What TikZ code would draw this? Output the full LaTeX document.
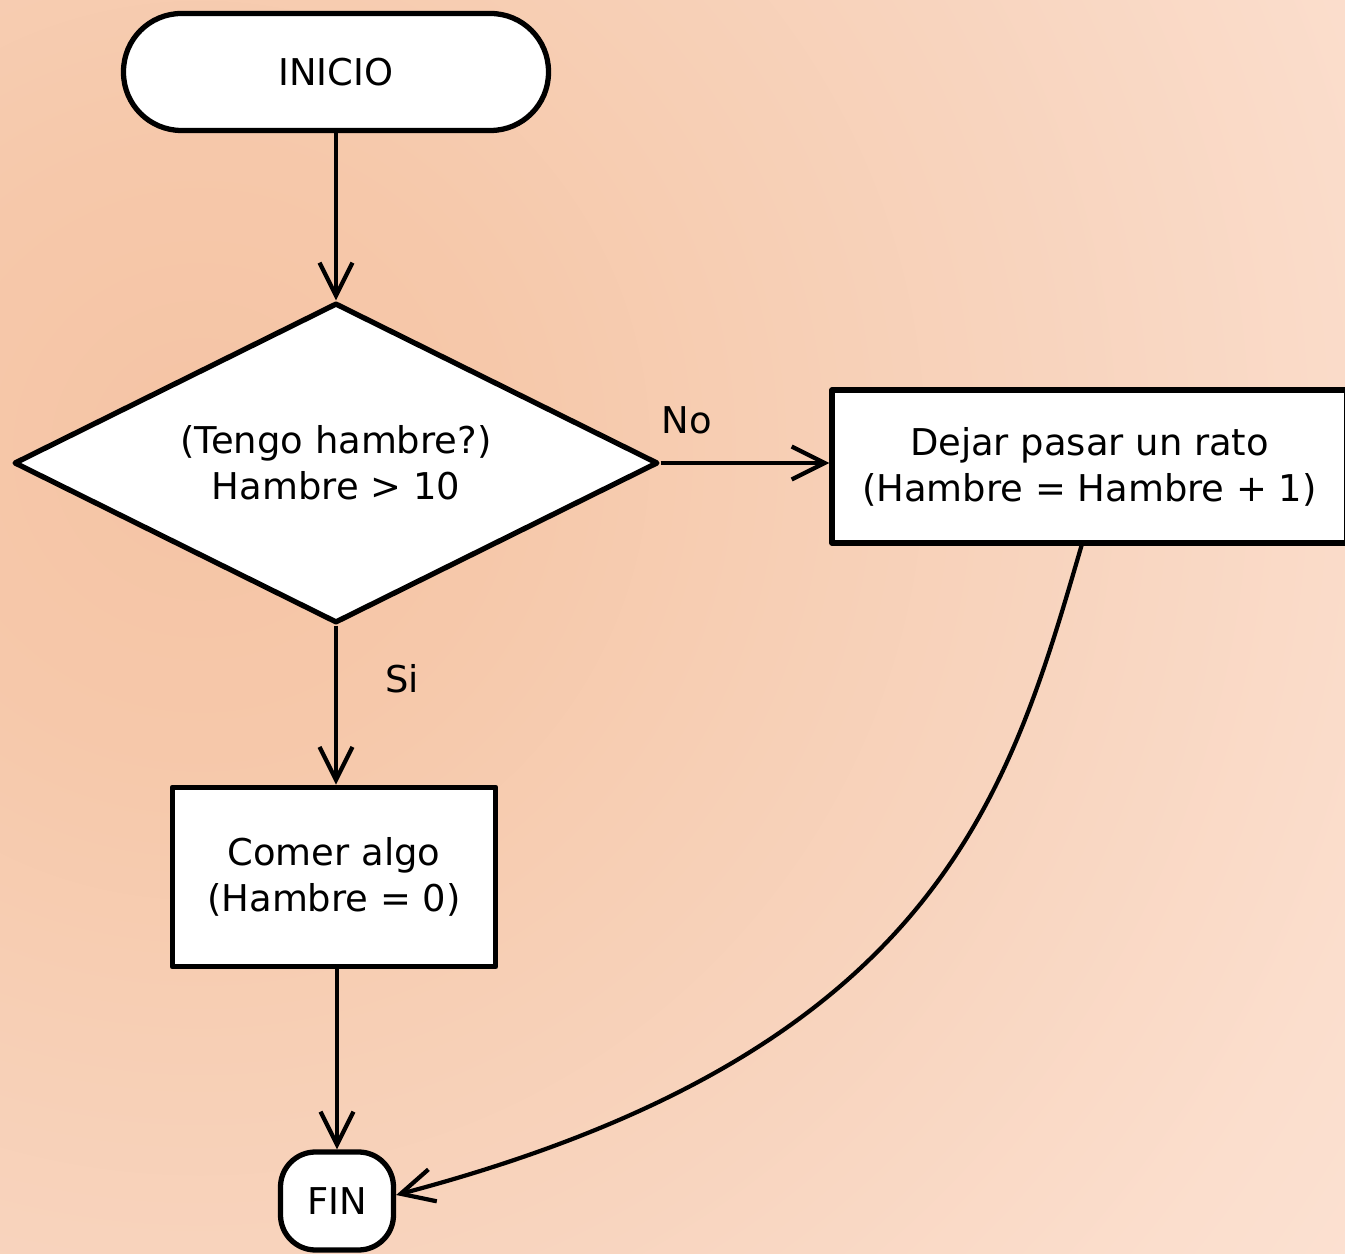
\documentclass[tikz,border=0pt]{standalone}
\usepackage{fontspec}
\setmainfont{DejaVu Sans}
\usetikzlibrary{shapes.geometric,arrows.meta}
\definecolor{fondoA}{RGB}{245,196,165}
\definecolor{fondoB}{RGB}{246,200,170}
\definecolor{fondoC}{RGB}{247,207,181}
\definecolor{fondoD}{RGB}{248,212,190}
\definecolor{fondoE}{RGB}{251,222,205}
\definecolor{fondoF}{RGB}{252,226,211}
\pgfdeclareradialshading{fondo}{\pgfpoint{0bp}{0bp}}{color(0bp)=(fondoA); color(85bp)=(fondoB); color(170bp)=(fondoC); color(241bp)=(fondoD); color(354bp)=(fondoE); color(420bp)=(fondoF)}
\tikzset{
  terminal/.style={draw, line width=1.5pt, fill=white, inner sep=0pt},
  decision/.style={draw, diamond, aspect=2, line width=1.5pt, fill=white, inner sep=0pt,
    minimum width=6.44cm, minimum height=3.2cm, align=center},
  proceso/.style={draw, rectangle, line width=1.5pt, fill=white, inner sep=0pt, align=center},
  flecha/.style={-{Straight Barb[length=3.3mm,width=3.3mm]}, line width=1.2pt}
}
\begin{document}
\begin{tikzpicture}[line join=round, font=\fontsize{10.5}{13.1}\selectfont]
\useasboundingbox (0,0) rectangle (13.45,-12.54);
\begin{scope}
  \clip (0,0) rectangle (13.45,-12.54);
  \node[inner sep=0pt, outer sep=0pt] (fondo) at (2,-4.5) {\pgfuseshading{fondo}};
\end{scope}
\node[terminal, minimum width=4.25cm, minimum height=1.17cm, rounded corners=0.58cm] (inicio) at (3.36,-0.72) {INICIO};
\node[decision] (hambre) at (3.36,-4.63) {(Tengo hambre?)\\Hambre > 10};
\node[proceso, minimum width=5.15cm, minimum height=1.53cm] (dejar) at (10.895,-4.665) {Dejar pasar un rato\\(Hambre = Hambre + 1)};
\node[proceso, minimum width=3.235cm, minimum height=1.795cm] (comer) at (3.34,-8.77) {Comer algo\\(Hambre = 0)};
\node[terminal, minimum width=1.13cm, minimum height=0.98cm, rounded corners=0.35cm] (fin) at (3.37,-12.01) {FIN};
\draw[flecha] (inicio) -- (hambre);
\draw[flecha] (hambre.east) -- (hambre.east -| dejar.west);
\draw[flecha] (hambre.south) -- (hambre.south |- comer.north);
\draw[flecha] (comer.south -| fin.north) -- (fin.north);
\draw[flecha] ([xshift=-0.08cm]dejar.south) .. controls +(-0.73,-2.5) and +(5.41,1.43) .. ([yshift=0.06cm]fin.east);
\node (no) at (6.87,-4.2) {No};
\node (si) at (4.02,-6.79) {Si};
\end{tikzpicture}
\end{document}
